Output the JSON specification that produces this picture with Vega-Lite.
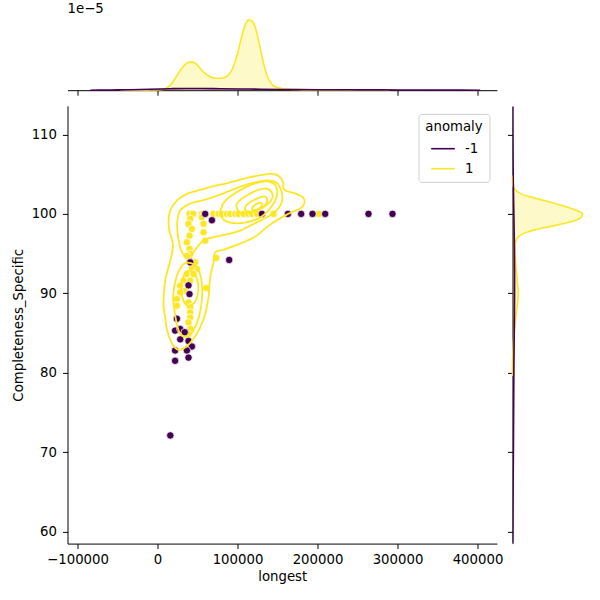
{
  "$schema": "https://vega.github.io/schema/vega-lite/v6.json",
  "padding": {"left": 10.5, "top": 1.2, "right": 5, "bottom": 5},
  "config": {
    "font": "DejaVu Sans",
    "view": {"stroke": null},
    "axis": {"domainColor": "black", "tickColor": "black", "labelColor": "black", "titleColor": "black", "labelFont": "DejaVu Sans", "titleFont": "DejaVu Sans", "labelFontSize": 13.3, "titleFontSize": 13.3, "titleFontWeight": "normal", "grid": false, "tickSize": 5, "domainWidth": 1, "tickWidth": 1, "labelPadding": 4},
    "legend": {"titleFont": "DejaVu Sans", "labelFont": "DejaVu Sans", "titleFontSize": 13.3, "labelFontSize": 13.3, "titleFontWeight": "normal", "titleColor": "black", "labelColor": "black"}
  },
  "datasets": {
    "pts": [
      {"x":40000,"y":100,"anomaly":1},{"x":44625,"y":100,"anomaly":1},{"x":55500,"y":100,"anomaly":1},{"x":70000,"y":100,"anomaly":1},{"x":76250,"y":100,"anomaly":1},{"x":80500,"y":100,"anomaly":1},{"x":86750,"y":100,"anomaly":1},{"x":90875,"y":100,"anomaly":1},{"x":97125,"y":100,"anomaly":1},{"x":101250,"y":100,"anomaly":1},{"x":107500,"y":100,"anomaly":1},{"x":113750,"y":100,"anomaly":1},{"x":118000,"y":100,"anomaly":1},{"x":124250,"y":100,"anomaly":1},{"x":145000,"y":100,"anomaly":1},{"x":201250,"y":100,"anomaly":1},
      {"x":40875,"y":99.37,"anomaly":1},{"x":38750,"y":98.74,"anomaly":1},{"x":43000,"y":98.1,"anomaly":1},{"x":40000,"y":97.26,"anomaly":1},{"x":36750,"y":96.42,"anomaly":1},{"x":40000,"y":95.59,"anomaly":1},{"x":40875,"y":94.96,"anomaly":1},{"x":40000,"y":94.33,"anomaly":1},{"x":36750,"y":94.7,"anomaly":1},
      {"x":57500,"y":99.79,"anomaly":1},{"x":55500,"y":99.57,"anomaly":1},{"x":57500,"y":98.74,"anomaly":1},{"x":57500,"y":97.68,"anomaly":1},{"x":59625,"y":96.63,"anomaly":1},
      {"x":73375,"y":94.45,"anomaly":1},{"x":47125,"y":93.9,"anomaly":1},{"x":49250,"y":93.06,"anomaly":1},{"x":43000,"y":93.27,"anomaly":1},{"x":36750,"y":92.43,"anomaly":1},{"x":45000,"y":92.43,"anomaly":1},{"x":32500,"y":91.59,"anomaly":1},{"x":40875,"y":91.59,"anomaly":1},{"x":28375,"y":90.96,"anomaly":1},{"x":34625,"y":90.33,"anomaly":1},{"x":28375,"y":90.11,"anomaly":1},{"x":24250,"y":89.28,"anomaly":1},{"x":24250,"y":88.44,"anomaly":1},{"x":38750,"y":88.85,"anomaly":1},{"x":40875,"y":88.22,"anomaly":1},{"x":40875,"y":87.59,"anomaly":1},{"x":40875,"y":86.96,"anomaly":1},{"x":38750,"y":86.33,"anomaly":1},{"x":40875,"y":85.5,"anomaly":1},{"x":38750,"y":84.87,"anomaly":1},{"x":60875,"y":90.67,"anomaly":1},
      {"x":59600,"y":100,"anomaly":-1},{"x":68000,"y":99.2,"anomaly":-1},{"x":130500,"y":100,"anomaly":-1},{"x":163000,"y":100,"anomaly":-1},{"x":179600,"y":100,"anomaly":-1},{"x":193750,"y":100,"anomaly":-1},{"x":209600,"y":100,"anomaly":-1},{"x":263750,"y":100,"anomaly":-1},{"x":293750,"y":100,"anomaly":-1},
      {"x":89600,"y":94.2,"anomaly":-1},{"x":40900,"y":93.9,"anomaly":-1},{"x":38750,"y":91.0,"anomaly":-1},{"x":40000,"y":89.9,"anomaly":-1},{"x":24250,"y":86.8,"anomaly":-1},{"x":22000,"y":85.3,"anomaly":-1},{"x":28400,"y":85.5,"anomaly":-1},{"x":34000,"y":85.1,"anomaly":-1},{"x":28400,"y":84.2,"anomaly":-1},{"x":38750,"y":84.0,"anomaly":-1},{"x":43000,"y":83.3,"anomaly":-1},{"x":36750,"y":82.8,"anomaly":-1},{"x":22000,"y":82.8,"anomaly":-1},{"x":38750,"y":81.9,"anomaly":-1},{"x":22000,"y":81.5,"anomaly":-1},{"x":16000,"y":72.1,"anomaly":-1}
    ],
    "contours": [
      {"cid":"c1","i":1,"x":7500,"y":88.65,"anomaly":1},{"cid":"c1","i":2,"x":9625,"y":86.96,"anomaly":1},{"cid":"c1","i":3,"x":12125,"y":85.28,"anomaly":1},{"cid":"c1","i":4,"x":18375,"y":83.64,"anomaly":1},{"cid":"c1","i":5,"x":25875,"y":82.89,"anomaly":1},{"cid":"c1","i":6,"x":35875,"y":83.27,"anomaly":1},{"cid":"c1","i":7,"x":45875,"y":84.4,"anomaly":1},{"cid":"c1","i":8,"x":53375,"y":85.7,"anomaly":1},{"cid":"c1","i":9,"x":59625,"y":87.39,"anomaly":1},{"cid":"c1","i":10,"x":63750,"y":89.48,"anomaly":1},{"cid":"c1","i":11,"x":65875,"y":92.0,"anomaly":1},{"cid":"c1","i":12,"x":70000,"y":93.9,"anomaly":1},{"cid":"c1","i":13,"x":72125,"y":95.16,"anomaly":1},{"cid":"c1","i":14,"x":82500,"y":95.5,"anomaly":1},{"cid":"c1","i":15,"x":103375,"y":96.25,"anomaly":1},{"cid":"c1","i":16,"x":122125,"y":97.14,"anomaly":1},{"cid":"c1","i":17,"x":140875,"y":98.65,"anomaly":1},{"cid":"c1","i":18,"x":163375,"y":100.0,"anomaly":1},{"cid":"c1","i":19,"x":178375,"y":100.67,"anomaly":1},{"cid":"c1","i":20,"x":183375,"y":101.3,"anomaly":1},{"cid":"c1","i":21,"x":182125,"y":102.06,"anomaly":1},{"cid":"c1","i":22,"x":173375,"y":102.52,"anomaly":1},{"cid":"c1","i":23,"x":158375,"y":103.06,"anomaly":1},{"cid":"c1","i":24,"x":157125,"y":103.95,"anomaly":1},{"cid":"c1","i":25,"x":150875,"y":104.83,"anomaly":1},{"cid":"c1","i":26,"x":140875,"y":105.04,"anomaly":1},{"cid":"c1","i":27,"x":115875,"y":104.62,"anomaly":1},{"cid":"c1","i":28,"x":90875,"y":103.98,"anomaly":1},{"cid":"c1","i":29,"x":57500,"y":103.15,"anomaly":1},{"cid":"c1","i":30,"x":36750,"y":102.52,"anomaly":1},{"cid":"c1","i":31,"x":24250,"y":101.68,"anomaly":1},{"cid":"c1","i":32,"x":15875,"y":100.42,"anomaly":1},{"cid":"c1","i":33,"x":13750,"y":98.74,"anomaly":1},{"cid":"c1","i":34,"x":15875,"y":97.48,"anomaly":1},{"cid":"c1","i":35,"x":19250,"y":96.22,"anomaly":1},{"cid":"c1","i":36,"x":18000,"y":94.96,"anomaly":1},{"cid":"c1","i":37,"x":13750,"y":93.27,"anomaly":1},{"cid":"c1","i":38,"x":9625,"y":91.59,"anomaly":1},
      {"cid":"c2","i":1,"x":30875,"y":95.12,"anomaly":1},{"cid":"c2","i":2,"x":25875,"y":97.01,"anomaly":1},{"cid":"c2","i":3,"x":24625,"y":98.9,"anomaly":1},{"cid":"c2","i":4,"x":28375,"y":100.42,"anomaly":1},{"cid":"c2","i":5,"x":40875,"y":101.3,"anomaly":1},{"cid":"c2","i":6,"x":59625,"y":101.8,"anomaly":1},{"cid":"c2","i":7,"x":78375,"y":102.43,"anomaly":1},{"cid":"c2","i":8,"x":97125,"y":103.19,"anomaly":1},{"cid":"c2","i":9,"x":115875,"y":103.82,"anomaly":1},{"cid":"c2","i":10,"x":134625,"y":104.2,"anomaly":1},{"cid":"c2","i":11,"x":148375,"y":103.95,"anomaly":1},{"cid":"c2","i":12,"x":154625,"y":102.94,"anomaly":1},{"cid":"c2","i":13,"x":155875,"y":101.68,"anomaly":1},{"cid":"c2","i":14,"x":150875,"y":100.67,"anomaly":1},{"cid":"c2","i":15,"x":138375,"y":99.66,"anomaly":1},{"cid":"c2","i":16,"x":118375,"y":98.65,"anomaly":1},{"cid":"c2","i":17,"x":103375,"y":97.89,"anomaly":1},{"cid":"c2","i":18,"x":90875,"y":97.52,"anomaly":1},{"cid":"c2","i":19,"x":73375,"y":97.14,"anomaly":1},{"cid":"c2","i":20,"x":57125,"y":96.63,"anomaly":1},{"cid":"c2","i":21,"x":48375,"y":95.62,"anomaly":1},{"cid":"c2","i":22,"x":39625,"y":94.62,"anomaly":1},
      {"cid":"c3","i":1,"x":80875,"y":101.05,"anomaly":1},{"cid":"c3","i":2,"x":90875,"y":102.18,"anomaly":1},{"cid":"c3","i":3,"x":111750,"y":103.44,"anomaly":1},{"cid":"c3","i":4,"x":132500,"y":104.07,"anomaly":1},{"cid":"c3","i":5,"x":145000,"y":103.82,"anomaly":1},{"cid":"c3","i":6,"x":149625,"y":102.94,"anomaly":1},{"cid":"c3","i":7,"x":147125,"y":101.68,"anomaly":1},{"cid":"c3","i":8,"x":138375,"y":100.42,"anomaly":1},{"cid":"c3","i":9,"x":128375,"y":99.53,"anomaly":1},{"cid":"c3","i":10,"x":109625,"y":98.9,"anomaly":1},{"cid":"c3","i":11,"x":90875,"y":98.9,"anomaly":1},{"cid":"c3","i":12,"x":79625,"y":99.66,"anomaly":1},
      {"cid":"c4","i":1,"x":99250,"y":101.3,"anomaly":1},{"cid":"c4","i":2,"x":115875,"y":102.56,"anomaly":1},{"cid":"c4","i":3,"x":132500,"y":103.19,"anomaly":1},{"cid":"c4","i":4,"x":142125,"y":102.81,"anomaly":1},{"cid":"c4","i":5,"x":143000,"y":101.89,"anomaly":1},{"cid":"c4","i":6,"x":132500,"y":100.83,"anomaly":1},{"cid":"c4","i":7,"x":115875,"y":100.2,"anomaly":1},{"cid":"c4","i":8,"x":103375,"y":100.16,"anomaly":1},
      {"cid":"c5","i":1,"x":111750,"y":101.17,"anomaly":1},{"cid":"c5","i":2,"x":124250,"y":101.93,"anomaly":1},{"cid":"c5","i":3,"x":134625,"y":102.18,"anomaly":1},{"cid":"c5","i":4,"x":136750,"y":101.46,"anomaly":1},{"cid":"c5","i":5,"x":128375,"y":100.63,"anomaly":1},{"cid":"c5","i":6,"x":115875,"y":100.29,"anomaly":1},{"cid":"c5","i":7,"x":109625,"y":100.54,"anomaly":1},
      {"cid":"c6","i":1,"x":118375,"y":100.79,"anomaly":1},{"cid":"c6","i":2,"x":126250,"y":101.39,"anomaly":1},{"cid":"c6","i":3,"x":130875,"y":101.24,"anomaly":1},{"cid":"c6","i":4,"x":127125,"y":100.67,"anomaly":1},{"cid":"c6","i":5,"x":120875,"y":100.48,"anomaly":1},
      {"cid":"k2","i":1,"x":37125,"y":93.86,"anomaly":1},{"cid":"k2","i":2,"x":48375,"y":93.35,"anomaly":1},{"cid":"k2","i":3,"x":54625,"y":91.84,"anomaly":1},{"cid":"k2","i":4,"x":55875,"y":89.7,"anomaly":1},{"cid":"k2","i":5,"x":52125,"y":87.18,"anomaly":1},{"cid":"k2","i":6,"x":44625,"y":85.29,"anomaly":1},{"cid":"k2","i":7,"x":35875,"y":84.53,"anomaly":1},{"cid":"k2","i":8,"x":27125,"y":85.16,"anomaly":1},{"cid":"k2","i":9,"x":22125,"y":87.18,"anomaly":1},{"cid":"k2","i":10,"x":19625,"y":89.7,"anomaly":1},{"cid":"k2","i":11,"x":23375,"y":91.97,"anomaly":1},{"cid":"k2","i":12,"x":29625,"y":93.35,"anomaly":1},
      {"cid":"k3","i":1,"x":39625,"y":92.85,"anomaly":1},{"cid":"k3","i":2,"x":47125,"y":92.34,"anomaly":1},{"cid":"k3","i":3,"x":50875,"y":91.08,"anomaly":1},{"cid":"k3","i":4,"x":49625,"y":89.57,"anomaly":1},{"cid":"k3","i":5,"x":43375,"y":88.56,"anomaly":1},{"cid":"k3","i":6,"x":35875,"y":88.56,"anomaly":1},{"cid":"k3","i":7,"x":30875,"y":89.57,"anomaly":1},{"cid":"k3","i":8,"x":29625,"y":91.08,"anomaly":1},{"cid":"k3","i":9,"x":33375,"y":92.34,"anomaly":1}
    ],
    "topk": [
      {"x":-46500,"d":0,"anomaly":1},{"x":-21625,"d":0.0005,"anomaly":1},{"x":-9125,"d":0.002,"anomaly":1},{"x":3375,"d":0.006,"anomaly":1},{"x":9625,"d":0.021,"anomaly":1},{"x":15875,"d":0.068,"anomaly":1},{"x":22125,"d":0.168,"anomaly":1},{"x":28375,"d":0.282,"anomaly":1},{"x":34625,"d":0.367,"anomaly":1},{"x":41750,"d":0.403,"anomaly":1},{"x":48375,"d":0.374,"anomaly":1},{"x":53375,"d":0.31,"anomaly":1},{"x":59625,"d":0.236,"anomaly":1},{"x":65875,"d":0.192,"anomaly":1},{"x":72125,"d":0.171,"anomaly":1},{"x":78375,"d":0.171,"anomaly":1},{"x":84625,"d":0.185,"anomaly":1},{"x":90875,"d":0.246,"anomaly":1},{"x":94625,"d":0.331,"anomaly":1},{"x":99250,"d":0.488,"anomaly":1},{"x":103375,"d":0.673,"anomaly":1},{"x":107500,"d":0.858,"anomaly":1},{"x":110875,"d":0.957,"anomaly":1},{"x":115000,"d":1.0,"anomaly":1},{"x":118375,"d":0.979,"anomaly":1},{"x":122125,"d":0.9,"anomaly":1},{"x":125875,"d":0.73,"anomaly":1},{"x":129625,"d":0.531,"anomaly":1},{"x":133375,"d":0.346,"anomaly":1},{"x":137125,"d":0.203,"anomaly":1},{"x":140875,"d":0.118,"anomaly":1},{"x":145000,"d":0.061,"anomaly":1},{"x":150875,"d":0.033,"anomaly":1},{"x":157500,"d":0.021,"anomaly":1},{"x":165875,"d":0.014,"anomaly":1},{"x":178375,"d":0.0085,"anomaly":1},{"x":203375,"d":0.004,"anomaly":1},{"x":240875,"d":0.0014,"anomaly":1},{"x":290000,"d":0,"anomaly":1},
      {"x":-84125,"d":0,"anomaly":-1},{"x":-59125,"d":0.003,"anomaly":-1},{"x":-34125,"d":0.007,"anomaly":-1},{"x":-9125,"d":0.014,"anomaly":-1},{"x":15875,"d":0.021,"anomaly":-1},{"x":34625,"d":0.024,"anomaly":-1},{"x":53375,"d":0.024,"anomaly":-1},{"x":78375,"d":0.021,"anomaly":-1},{"x":115875,"d":0.016,"anomaly":-1},{"x":153375,"d":0.011,"anomaly":-1},{"x":203375,"d":0.007,"anomaly":-1},{"x":253375,"d":0.005,"anomaly":-1},{"x":303375,"d":0.003,"anomaly":-1},{"x":353375,"d":0.0014,"anomaly":-1},{"x":403375,"d":0,"anomaly":-1}
    ],
    "rightk": [
      {"y":104.83,"d":0,"anomaly":1},{"y":104.2,"d":0.001,"anomaly":1},{"y":103.57,"d":0.006,"anomaly":1},{"y":103.06,"d":0.033,"anomaly":1},{"y":102.52,"d":0.119,"anomaly":1},{"y":102.06,"d":0.29,"anomaly":1},{"y":101.68,"d":0.451,"anomaly":1},{"y":101.24,"d":0.633,"anomaly":1},{"y":100.83,"d":0.786,"anomaly":1},{"y":100.42,"d":0.919,"anomaly":1},{"y":100.0,"d":1.0,"anomaly":1},{"y":99.53,"d":0.976,"anomaly":1},{"y":99.16,"d":0.89,"anomaly":1},{"y":98.78,"d":0.733,"anomaly":1},{"y":98.4,"d":0.533,"anomaly":1},{"y":98.02,"d":0.333,"anomaly":1},{"y":97.64,"d":0.19,"anomaly":1},{"y":97.26,"d":0.104,"anomaly":1},{"y":96.76,"d":0.054,"anomaly":1},{"y":96.0,"d":0.037,"anomaly":1},{"y":94.74,"d":0.04,"anomaly":1},{"y":92.85,"d":0.054,"anomaly":1},{"y":91.21,"d":0.071,"anomaly":1},{"y":90.08,"d":0.083,"anomaly":1},{"y":88.69,"d":0.071,"anomaly":1},{"y":86.93,"d":0.047,"anomaly":1},{"y":84.91,"d":0.023,"anomaly":1},{"y":83.4,"d":0.009,"anomaly":1},{"y":81.5,"d":0.001,"anomaly":1},{"y":79.6,"d":0,"anomaly":1},
      {"y":113.5,"d":0,"anomaly":-1},{"y":112.14,"d":0.001,"anomaly":-1},{"y":106.72,"d":0.007,"anomaly":-1},{"y":101.68,"d":0.016,"anomaly":-1},{"y":96.63,"d":0.026,"anomaly":-1},{"y":91.59,"d":0.03,"anomaly":-1},{"y":86.55,"d":0.027,"anomaly":-1},{"y":81.5,"d":0.021,"anomaly":-1},{"y":76.45,"d":0.017,"anomaly":-1},{"y":70.15,"d":0.013,"anomaly":-1},{"y":63.85,"d":0.007,"anomaly":-1},{"y":60.07,"d":0.004,"anomaly":-1},{"y":58.6,"d":0.002,"anomaly":-1}
    ]
  },
  "bounds": "flush",
  "spacing": 15.7,
  "resolve": {"scale": {"color": "independent"}, "legend": {"color": "independent"}},
  "vconcat": [
    {
      "width": 429.4,
      "height": 74,
      "title": {"text": "1e−5", "anchor": "start", "frame": "group", "fontSize": 13.3, "fontWeight": "normal", "font": "DejaVu Sans", "color": "black", "offset": -9.8, "baseline": "alphabetic"},
      "data": {"name": "topk"},
      "encoding": {
        "x": {"field": "x", "type": "quantitative", "scale": {"domain": [-112500, 424250], "nice": false, "zero": false}, "axis": {"orient": "bottom", "labels": false, "title": null, "values": [-100000, 0, 100000, 200000, 300000, 400000]}},
        "y": {"field": "d", "type": "quantitative", "scale": {"domain": [0, 1.053], "nice": false}, "axis": null}
      },
      "layer": [
        {"transform": [{"filter": "datum.anomaly == 1"}], "mark": {"type": "area", "color": "#fde725", "fillOpacity": 0.25, "interpolate": "monotone"}},
        {"transform": [{"filter": "datum.anomaly == 1"}], "mark": {"type": "line", "color": "#fde725", "strokeWidth": 1.6, "interpolate": "monotone"}},
        {"transform": [{"filter": "datum.anomaly == -1"}], "mark": {"type": "area", "color": "#440154", "fillOpacity": 0.25, "interpolate": "monotone"}},
        {"transform": [{"filter": "datum.anomaly == -1"}], "mark": {"type": "line", "color": "#440154", "strokeWidth": 1.6, "interpolate": "monotone"}}
      ]
    },
    {
      "bounds": "flush",
      "spacing": 15,
      "resolve": {"scale": {"color": "independent"}, "legend": {"color": "independent"}},
      "hconcat": [
        {
          "width": 429.4,
          "height": 437.7,
          "layer": [
            {
              "data": {"name": "pts"},
              "transform": [{"filter": "datum.anomaly == 1"}],
              "mark": {"type": "point", "filled": true, "size": 55, "color": "#fde725", "stroke": "white", "strokeWidth": 0.75, "opacity": 1},
              "encoding": {
                "x": {"field": "x", "type": "quantitative", "scale": {"domain": [-112500, 424250], "nice": false, "zero": false}, "axis": {"title": "longest", "values": [-100000, 0, 100000, 200000, 300000, 400000], "format": "d", "labelFlush": false, "labelOverlap": false, "titlePadding": 4}},
                "y": {"field": "y", "type": "quantitative", "scale": {"domain": [58.48, 113.6], "nice": false, "zero": false}, "axis": {"title": "Completeness_Specific", "values": [60, 70, 80, 90, 100, 110], "labelPadding": 6, "titlePadding": 6}}
              }
            },
            {
              "data": {"name": "pts"},
              "transform": [{"filter": "datum.anomaly == -1"}],
              "mark": {"type": "point", "filled": true, "size": 55, "color": "#440154", "stroke": "white", "strokeWidth": 0.75, "opacity": 1},
              "encoding": {
                "x": {"field": "x", "type": "quantitative"},
                "y": {"field": "y", "type": "quantitative"}
              }
            },
            {
              "data": {"name": "contours"},
              "mark": {"type": "line", "strokeWidth": 1.8, "interpolate": "cardinal-closed"},
              "encoding": {
                "x": {"field": "x", "type": "quantitative"},
                "y": {"field": "y", "type": "quantitative"},
                "detail": {"field": "cid"},
                "order": {"field": "i", "type": "quantitative"},
                "color": {"field": "anomaly", "type": "nominal", "scale": {"domain": [-1, 1], "range": ["#440154", "#fde725"]},
                  "legend": {"title": "anomaly", "orient": "top-right", "offset": 7.5, "padding": 6.5, "fillColor": "rgba(255,255,255,0.8)", "strokeColor": "#d0d0d0", "cornerRadius": 3, "symbolType": "stroke", "symbolSize": 560, "symbolStrokeWidth": 1.6, "labelOffset": 9, "titleAnchor": "middle", "titleAlign": "center", "titlePadding": 2, "rowPadding": -2}}
              }
            }
          ]
        },
        {
          "width": 74,
          "height": 437.7,
          "data": {"name": "rightk"},
          "encoding": {
            "y": {"field": "y", "type": "quantitative", "scale": {"domain": [58.48, 113.6], "nice": false, "zero": false}, "axis": {"orient": "left", "labels": false, "title": null, "values": [60, 70, 80, 90, 100, 110]}},
            "x": {"field": "d", "type": "quantitative", "scale": {"domain": [0, 1.057], "nice": false}, "axis": null}
          },
          "layer": [
            {"transform": [{"filter": "datum.anomaly == 1"}], "mark": {"type": "area", "orient": "horizontal", "color": "#fde725", "fillOpacity": 0.25, "interpolate": "monotone"}},
            {"transform": [{"filter": "datum.anomaly == 1"}], "mark": {"type": "line", "orient": "horizontal", "color": "#fde725", "strokeWidth": 1.6, "interpolate": "catmull-rom"}},
            {"transform": [{"filter": "datum.anomaly == -1"}], "mark": {"type": "area", "orient": "horizontal", "color": "#440154", "fillOpacity": 0.25, "interpolate": "monotone", "clip": true}},
            {"transform": [{"filter": "datum.anomaly == -1"}], "mark": {"type": "line", "orient": "horizontal", "color": "#440154", "strokeWidth": 1.6, "interpolate": "catmull-rom", "clip": true}}
          ]
        }
      ]
    }
  ]
}
